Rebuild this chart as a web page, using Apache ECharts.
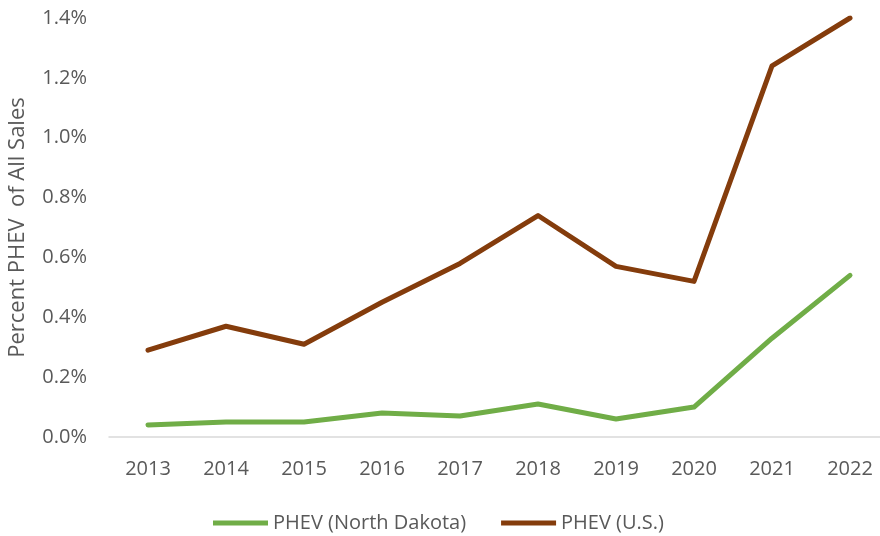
<!DOCTYPE html>
<html>
<head>
<meta charset="utf-8">
<script src="https://cdn.jsdelivr.net/npm/echarts@6/dist/echarts.min.js"></script>
<style>
  html, body { margin: 0; padding: 0; background: #ffffff; }
  #chart { width: 880px; height: 536px; }
</style>
</head>
<body>
<div id="chart"></div>
<script>
// 数据
const years = ['2013', '2014', '2015', '2016', '2017', '2018', '2019', '2020', '2021', '2022'];
const ndValues = [0.04, 0.05, 0.05, 0.08, 0.07, 0.11, 0.06, 0.10, 0.33, 0.54];
const usValues = [0.29, 0.37, 0.31, 0.45, 0.58, 0.74, 0.57, 0.52, 1.24, 1.40];

const textFont = '"Open Sans", sans-serif';
const textColor = '#595959';

// 初始化图表
const chart = echarts.init(document.getElementById('chart'));

chart.setOption({
  backgroundColor: '#ffffff',
  animation: false,
  grid: {
    left: 109,
    top: 18,
    width: 780,
    height: 419,
    outerBoundsMode: 'none'
  },
  legend: {
    top: 513,
    left: 213,
    icon: 'rect',
    itemWidth: 55,
    itemHeight: 5,
    itemGap: 35,
    padding: 0,
    textStyle: {
      fontFamily: textFont,
      fontSize: 20,
      color: textColor,
      padding: [0, 0, 0, 0]
    },
    data: ['PHEV (North Dakota)', 'PHEV (U.S.)']
  },
  xAxis: {
    type: 'category',
    data: years,
    boundaryGap: true,
    axisLine: { lineStyle: { color: '#d9d9d9', width: 1.5 } },
    axisTick: { show: false },
    axisLabel: {
      margin: 22,
      fontFamily: textFont,
      fontSize: 20,
      color: textColor
    }
  },
  yAxis: {
    type: 'value',
    min: 0,
    max: 1.4,
    interval: 0.2,
    name: 'Percent PHEV  of All Sales',
    nameLocation: 'middle',
    nameGap: 80,
    nameTextStyle: {
      fontFamily: textFont,
      fontSize: 22,
      color: textColor
    },
    axisLine: { show: false },
    axisTick: { show: false },
    splitLine: { show: false },
    axisLabel: {
      margin: 22,
      fontFamily: textFont,
      fontSize: 20,
      color: textColor,
      formatter: function(v) {
        return v.toFixed(1) + '%';
      }
    }
  },
  series: [
    {
      name: 'PHEV (North Dakota)',
      type: 'line',
      data: ndValues,
      symbol: 'none',
      color: '#70ad47',
      lineStyle: { color: '#70ad47', width: 5, cap: 'round', join: 'round' }
    },
    {
      name: 'PHEV (U.S.)',
      type: 'line',
      data: usValues,
      symbol: 'none',
      color: '#843c0c',
      lineStyle: { color: '#843c0c', width: 5, cap: 'round', join: 'round' }
    }
  ]
});
</script>
</body>
</html>
